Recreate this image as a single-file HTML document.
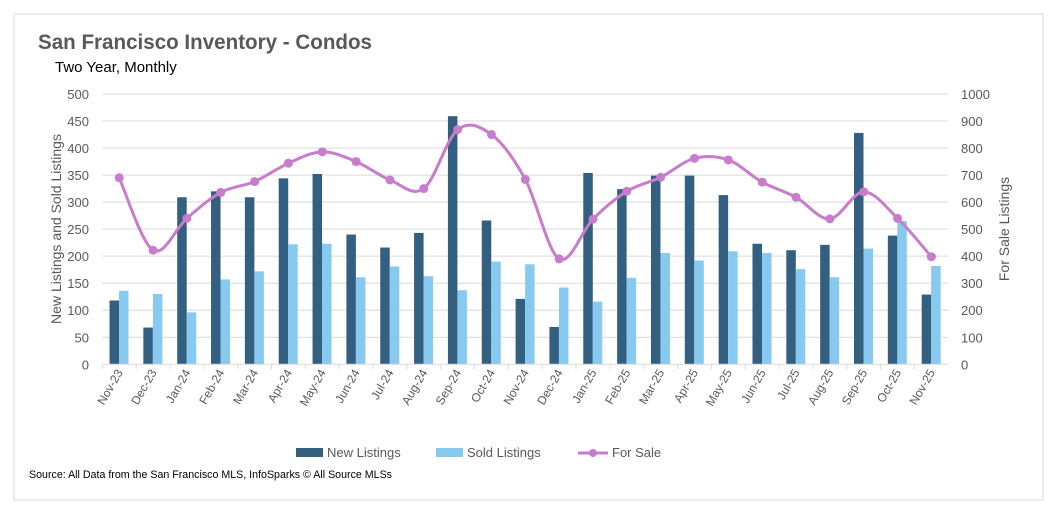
<!DOCTYPE html>
<html><head><meta charset="utf-8"><style>
body{margin:0;background:#fff;font-family:"Liberation Sans",sans-serif}
svg{display:block}
</style></head><body>
<svg width="1061" height="524" font-family="Liberation Sans, sans-serif">
<rect x="14" y="14" width="1029" height="486" fill="#fff" stroke="#d9d9d9"/>
<text x="38" y="49" font-size="20.8" font-weight="bold" fill="#595959" textLength="334" lengthAdjust="spacingAndGlyphs">San Francisco Inventory - Condos</text>
<text x="55" y="72" font-size="15" fill="#000">Two Year, Monthly</text>
<text transform="translate(61,229) rotate(-90)" text-anchor="middle" font-size="14" fill="#595959">New Listings and Sold Listings</text>
<text transform="translate(1009,229) rotate(-90)" text-anchor="middle" font-size="14" fill="#595959">For Sale Listings</text>
<g id="grid"></g><g id="bars"></g><g id="line"></g><g id="axes"></g>
<g>
<rect x="296" y="448" width="27" height="9" fill="#335f80"/>
<text x="327" y="457" font-size="13" fill="#595959">New Listings</text>
<rect x="436" y="448" width="27" height="9" fill="#88c9f0"/>
<text x="467" y="457" font-size="13" fill="#595959">Sold Listings</text>
<line x1="578" y1="453" x2="608" y2="453" stroke="#c77ccc" stroke-width="3"/>
<circle cx="593" cy="453" r="4" fill="#c77ccc"/>
<text x="612" y="457" font-size="13" fill="#595959">For Sale</text>
</g>
<text x="29" y="478" font-size="11" fill="#000" textLength="363" lengthAdjust="spacingAndGlyphs">Source: All Data from the San Francisco MLS, InfoSparks © All Source MLSs</text>
</svg>
<script>
const categories=["Nov-23","Dec-23","Jan-24","Feb-24","Mar-24","Apr-24","May-24","Jun-24","Jul-24","Aug-24","Sep-24","Oct-24","Nov-24","Dec-24","Jan-25","Feb-25","Mar-25","Apr-25","May-25","Jun-25","Jul-25","Aug-25","Sep-25","Oct-25","Nov-25"];
const newListings=[118,68,309,320,309,344,352,240,216,243,459,266,121,69,354,324,349,349,313,223,211,221,428,238,129];
const soldListings=[136,130,96,157,172,222,223,161,181,163,137,190,185,142,116,160,206,192,209,206,176,161,214,265,182];
const forSale=[690,422,540,636,676,744,786,750,682,650,868,850,684,390,537,640,692,762,756,674,618,538,638,540,398];
const leftTicks=[0,50,100,150,200,250,300,350,400,450,500];
const rightTicks=[0,100,200,300,400,500,600,700,800,900,1000];
const NS="http://www.w3.org/2000/svg";
const X0=102.3,X1=948.3,Y0=364.3,Y1=94;
const bw=(X1-X0)/categories.length;
const xc=i=>X0+bw*(i+0.5);
const yL=v=>Y0-(Y0-Y1)*v/500;
const yR=v=>Y0-(Y0-Y1)*v/1000;
function mk(tag,attrs,parent){const e=document.createElementNS(NS,tag);for(const k in attrs)e.setAttribute(k,attrs[k]);document.getElementById(parent).appendChild(e);return e;}
leftTicks.forEach((t,i)=>{
 if(t>0){const g=mk('line',{x1:X0,x2:X1,y1:yL(t),y2:yL(t),stroke:'#d9d9d9'},'grid');
 
 }
 const tx=mk('text',{x:89,y:yL(t)+5,'text-anchor':'end','font-size':13,fill:'#595959'},'axes');tx.textContent=t;
 
 
});
rightTicks.forEach(t=>{
 const tx=mk('text',{x:961,y:yR(t)+5,'font-size':13,fill:'#595959'},'axes');tx.textContent=t;
 
 
});
const ax=mk('line',{x1:X0,x2:X1,y1:Y0,y2:Y0,stroke:'#d9d9d9'},'axes');


categories.forEach((c,i)=>{
 const tk=mk('line',{x1:X0+bw*i,x2:X0+bw*i,y1:Y0,y2:Y0+5,stroke:'#d9d9d9'},'axes');
 
 
 const tx=mk('text',{transform:`translate(${xc(i)+4},${Y0+8}) rotate(-60)`,'text-anchor':'end','font-size':12,fill:'#595959'},'axes');tx.textContent=c;
 
 
 const b1=mk('rect',{x:xc(i)-9.7,y:yL(newListings[i]),width:9.5,height:Y0-yL(newListings[i]),fill:'#335f80'},'bars');
 
 
 const b2=mk('rect',{x:xc(i)-0.2,y:yL(soldListings[i]),width:9.5,height:Y0-yL(soldListings[i]),fill:'#88c9f0'},'bars');
 
 
});
const pts=forSale.map((v,i)=>[xc(i),yR(v)]);
let d=`M${pts[0][0]},${pts[0][1]}`;
for(let i=0;i<pts.length-1;i++){
 const p0=pts[Math.max(0,i-1)],p1=pts[i],p2=pts[i+1],p3=pts[Math.min(pts.length-1,i+2)];
 const t=1/6;
 d+=` C${p1[0]+(p2[0]-p0[0])*t},${p1[1]+(p2[1]-p0[1])*t} ${p2[0]-(p3[0]-p1[0])*t},${p2[1]-(p3[1]-p1[1])*t} ${p2[0]},${p2[1]}`;
}
const ln=mk('path',{d:d,fill:'none',stroke:'#c77ccc','stroke-width':3},'line');


pts.forEach(p=>{
 const c=mk('circle',{cx:p[0],cy:p[1],r:4.5,fill:'#c77ccc'},'line');
 
 
});
</script>
</body></html>
